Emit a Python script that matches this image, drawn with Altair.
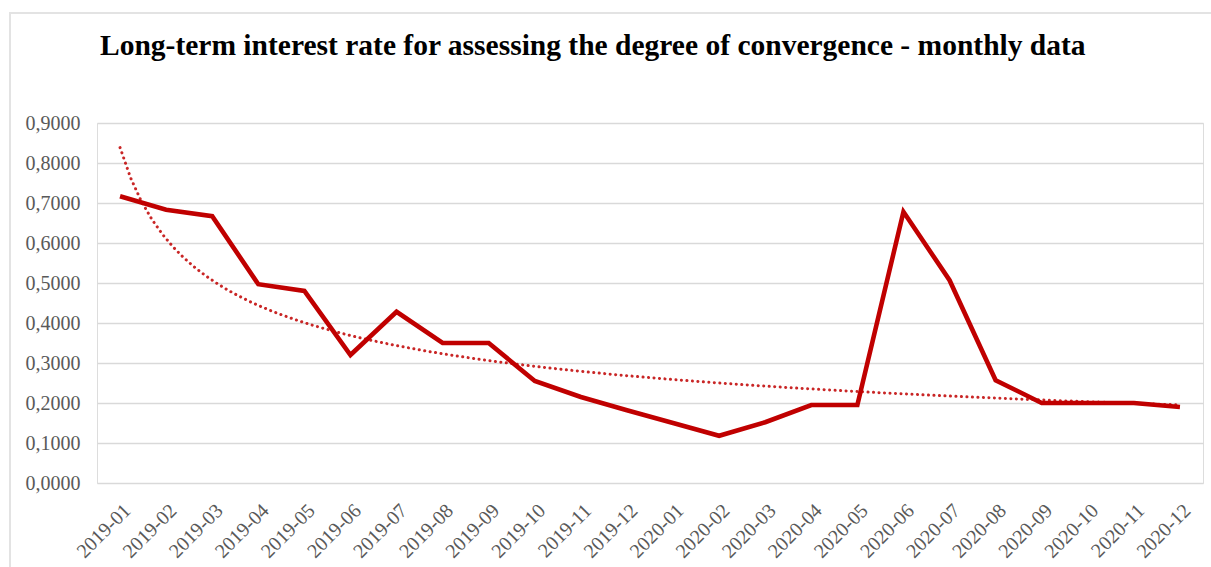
import altair as alt
import pandas as pd

# Monthly long-term interest rate (convergence criterion), 2019-01 .. 2020-12
months = [
    "2019-01", "2019-02", "2019-03", "2019-04", "2019-05", "2019-06",
    "2019-07", "2019-08", "2019-09", "2019-10", "2019-11", "2019-12",
    "2020-01", "2020-02", "2020-03", "2020-04", "2020-05", "2020-06",
    "2020-07", "2020-08", "2020-09", "2020-10", "2020-11", "2020-12",
]
rates = [
    0.717, 0.683, 0.667, 0.497, 0.480, 0.320,
    0.428, 0.350, 0.350, 0.255, 0.215, 0.182,
    0.150, 0.118, 0.152, 0.195, 0.195, 0.678,
    0.507, 0.257, 0.200, 0.200, 0.200, 0.190,
]
y_ticks = [0.0, 0.1, 0.2, 0.3, 0.4, 0.5, 0.6, 0.7, 0.8, 0.9]
title_text = "Long-term interest rate for assessing the degree of convergence - monthly data"

df = pd.DataFrame({"idx": list(range(1, len(months) + 1)), "month": months, "rate": rates})

RED = "#C00000"
LABEL_GREY = "#595959"
FONT = "Liberation Serif"
W, H = 1106, 360

month_array = "[" + ",".join(f"'{m}'" for m in months) + "]"

x_enc = alt.X(
    "idx:Q",
    scale=alt.Scale(domain=[0.5, len(months) + 0.5], nice=False, zero=False),
    axis=alt.Axis(
        values=list(range(1, len(months) + 1)),
        labelExpr=f"{month_array}[datum.value - 1]",
        labelAngle=-45,
        labelAlign="right",
        labelBaseline="top",
        labelPadding=17,
        labelOverlap=False,
        labelFont=FONT,
        labelFontSize=20,
        labelColor=LABEL_GREY,
        ticks=False,
        domain=False,
        grid=False,
        title=None,
    ),
)
y_enc = alt.Y(
    "rate:Q",
    scale=alt.Scale(domain=[0, 0.9], nice=False),
    axis=alt.Axis(
        values=y_ticks,
        labelExpr="replace(format(datum.value, '.4f'), '.', ',')",
        labelFont=FONT,
        labelFontSize=20,
        labelColor=LABEL_GREY,
        labelPadding=17,
        ticks=False,
        domain=False,
        grid=True,
        gridColor="#d9d9d9",
        gridWidth=1.5,
        title=None,
    ),
)

base = alt.Chart(df)
one_row = alt.Chart(pd.DataFrame({"k": [0]}))

# Light frame around the whole chart
frame = one_row.mark_rect(
    fill="transparent", stroke="#e3e3e3", strokeWidth=2, clip=False
).encode(
    x=alt.value(-87), x2=alt.value(W + 20),
    y=alt.value(-110), y2=alt.value(H + 100),
)

# Chart heading
heading = one_row.mark_text(
    text=title_text,
    align="left",
    baseline="alphabetic",
    font=FONT,
    fontSize=29.5,
    fontWeight="bold",
    color="#000000",
).encode(x=alt.value(3), y=alt.value(-68))

# Power trend line fitted to the monthly values
trend = base.transform_regression(
    "idx", "rate", method="pow"
).mark_line(
    color=RED, strokeWidth=3, strokeCap="round", strokeDash=[0.1, 5.4], opacity=0.85
).encode(x=x_enc, y=y_enc)

line = base.mark_line(color=RED, strokeWidth=4.6, strokeJoin="miter").encode(x=x_enc, y=y_enc)

chart = alt.layer(frame, heading, trend, line).properties(
    width=W,
    height=H,
    padding={"left": 97, "top": 123, "right": 8, "bottom": 84},
    autosize=alt.AutoSizeParams(type="none"),
).configure_view(strokeOpacity=0).configure(background="white")

chart.save("out.html", embed_options={"renderer": "svg", "actions": False})
